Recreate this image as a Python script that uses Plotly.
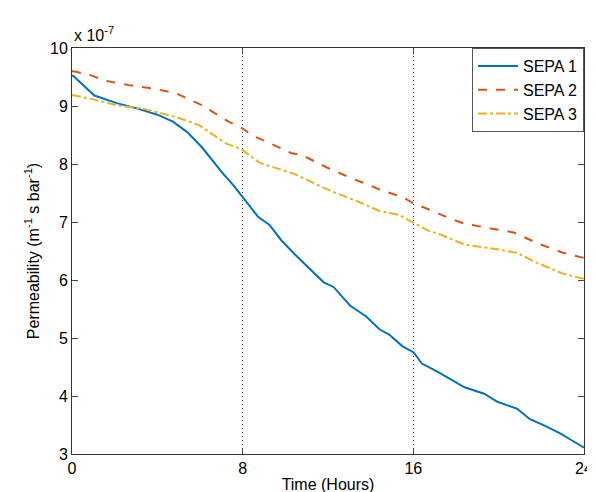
import plotly.graph_objects as go

# values in units of 1e-7
sepa1_t = [0, 0.05, 1.05, 2.1, 3.12, 4.0, 4.73, 5.4, 6.11, 7.04, 7.57, 8.11, 8.72, 9.26, 9.8, 10.45, 11.0, 11.8, 12.26, 13.03, 13.79, 14.41, 14.87, 15.48, 16.02, 16.4, 17.17, 18.4, 19.32, 19.94, 20.86, 21.47, 22.2, 22.86, 23.5, 24]
sepa1_v = [9.52, 9.52, 9.18, 9.05, 8.95, 8.85, 8.73, 8.55, 8.28, 7.85, 7.63, 7.37, 7.09, 6.95, 6.69, 6.44, 6.25, 5.96, 5.88, 5.56, 5.37, 5.15, 5.06, 4.86, 4.75, 4.56, 4.41, 4.15, 4.04, 3.90, 3.78, 3.60, 3.48, 3.36, 3.22, 3.11]

sepa2_t = [0, 0.2, 0.97, 1.5, 2.66, 3.96, 4.88, 6.11, 7.34, 7.96, 8.5, 9.03, 10.26, 10.8, 11.95, 13.18, 13.79, 14.41, 15.48, 16.02, 16.71, 17.79, 18.4, 19.48, 20.71, 21.78, 23.01, 24]
sepa2_v = [9.6, 9.59, 9.52, 9.44, 9.36, 9.29, 9.22, 9.01, 8.73, 8.62, 8.48, 8.40, 8.19, 8.15, 7.94, 7.74, 7.66, 7.56, 7.43, 7.32, 7.22, 7.05, 6.97, 6.90, 6.82, 6.64, 6.47, 6.38]

sepa3_t = [0, 1.05, 2.12, 3.35, 4.88, 5.96, 7.19, 7.96, 8.8, 9.65, 10.41, 11.34, 12.1, 13.49, 14.41, 15.33, 16.02, 16.71, 17.3, 18.4, 19.94, 20.86, 21.78, 23.01, 24]
sepa3_v = [9.19, 9.11, 9.01, 8.95, 8.81, 8.67, 8.36, 8.25, 8.02, 7.92, 7.83, 7.67, 7.54, 7.34, 7.19, 7.12, 6.99, 6.85, 6.78, 6.61, 6.53, 6.47, 6.30, 6.11, 6.02]

x_ticks = [0, 8, 16, 24]
y_ticks = [3, 4, 5, 6, 7, 8, 9, 10]

fig = go.Figure()
fig.add_trace(go.Scatter(x=sepa1_t, y=sepa1_v, mode="lines", name="SEPA 1",
                         line=dict(color="#0072BD", width=2)))
fig.add_trace(go.Scatter(x=sepa2_t, y=sepa2_v, mode="lines", name="SEPA 2",
                         line=dict(color="#D95319", width=2, dash="dash")))
fig.add_trace(go.Scatter(x=sepa3_t, y=sepa3_v, mode="lines", name="SEPA 3",
                         line=dict(color="#EDB120", width=2, dash="dashdot")))

font = dict(family="Arial, Liberation Sans, sans-serif", size=16, color="black")

fig.update_layout(
    width=595, height=492,
    margin=dict(l=64, r=10, t=40, b=39),
    paper_bgcolor="white", plot_bgcolor="white",
    font=font,
    showlegend=True,
    legend=dict(x=1, y=1, xanchor="right", yanchor="top",
                bgcolor="white", bordercolor="#555", borderwidth=1,
                font=dict(family="Arial, Liberation Sans, sans-serif", size=16, color="black"),
                tracegroupgap=0, itemwidth=40),
    xaxis=dict(range=[0, 24], tickvals=x_ticks, ticks="inside", ticklen=6,
               showline=True, linecolor="#333", linewidth=1, mirror="ticks",
               showgrid=True, gridcolor="#444", griddash="1px,3px", gridwidth=1,
               zeroline=False,
               title=dict(text="Time (Hours)", standoff=2,
                          font=dict(family="Arial, Liberation Sans, sans-serif", size=16)),
               tickfont=font),
    yaxis=dict(range=[3, 10], tickvals=y_ticks, ticks="inside", ticklen=6,
               showline=True, linecolor="#333", linewidth=1, mirror="ticks",
               showgrid=False, zeroline=False,
               title=dict(text="Permeability (m<sup>-1</sup> s bar<sup>-1</sup>)", standoff=6,
                          font=dict(family="Arial, Liberation Sans, sans-serif", size=16)),
               tickfont=font),
    annotations=[dict(text="x 10<sup>-7</sup>", xref="paper", yref="paper",
                      x=0, y=1, xanchor="left", yanchor="bottom", yshift=2,
                      showarrow=False,
                      font=dict(family="Arial, Liberation Sans, sans-serif", size=16))],
)

fig.write_html("out.html")
